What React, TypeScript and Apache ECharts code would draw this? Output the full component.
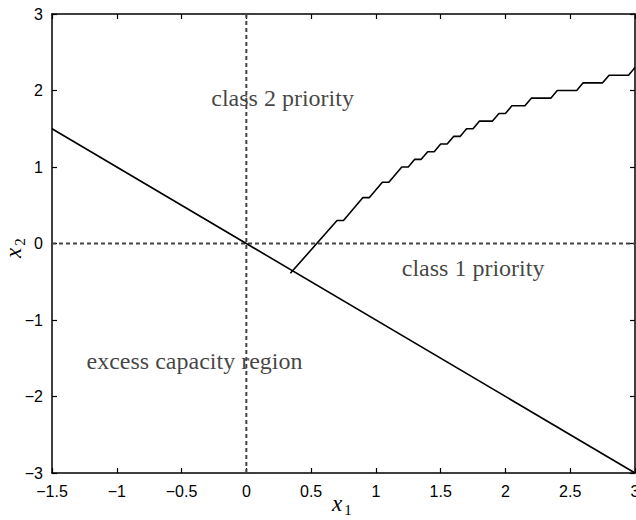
import React, { useEffect, useRef } from "react";
import * as echarts from "echarts";

// Boundary line x2 = -x1
const boundaryX = [-1.5, 3];
const boundaryY = [1.5, -3];

// Staircase switching curve
const curveX = [0.34, 0.70, 0.75, 0.90, 0.95, 1.05, 1.10, 1.20, 1.25, 1.30, 1.35, 1.40, 1.45, 1.50, 1.55, 1.60, 1.65, 1.70, 1.75, 1.80, 1.90, 1.95, 2.00, 2.05, 2.15, 2.20, 2.35, 2.40, 2.55, 2.60, 2.75, 2.80, 2.95, 3.00];
const curveY = [-0.39, 0.30, 0.30, 0.60, 0.60, 0.80, 0.80, 1.00, 1.00, 1.10, 1.10, 1.20, 1.20, 1.30, 1.30, 1.40, 1.40, 1.50, 1.50, 1.60, 1.60, 1.70, 1.70, 1.80, 1.80, 1.90, 1.90, 2.00, 2.00, 2.10, 2.10, 2.20, 2.20, 2.30];

// Dotted reference axes
const hDashX = [-1.5, 3];
const hDashY = [0, 0];
const vDashX = [0, 0];
const vDashY = [-3, 3];

// Region annotations
const labelTexts = ["class 2 priority", "class 1 priority", "excess capacity region"];
const labelX = [0.28, 1.75, -0.40];
const labelY = [1.90, -0.32, -1.54];

const xTicks = { min: -1.5, max: 3, interval: 0.5 };
const yTicks = { min: -3, max: 3, interval: 1 };

const zip = (a: number[], b: number[]) => a.map((v, i) => [v, b[i]]);

export default function App() {
  const ref = useRef<HTMLDivElement>(null);
  useEffect(() => {
    if (!ref.current) return;
    const chart = echarts.init(ref.current, null, { renderer: "svg" });
    const axisLine = { show: true, onZero: false, lineStyle: { color: "#000", width: 1.5 } };
    const tick = { show: true, inside: true, length: 5, lineStyle: { color: "#000", width: 1.2 } };
    const fmt = (v: number) => String(v).replace("-", "\u2212");
    const tickFont = { fontFamily: "Liberation Sans", fontSize: 16, color: "#000" };
    const italic = { fontFamily: "Liberation Serif", fontStyle: "italic", fontSize: 23, fill: "#000" };
    const sub = { fontFamily: "Liberation Serif", fontSize: 15, fill: "#000" };
    chart.setOption({
      animation: false,
      grid: { left: 52, top: 14, width: 583, height: 459, containLabel: false, outerBoundsMode: "none" },
      xAxis: [
        {
          type: "value", position: "bottom", ...xTicks,
          axisLine, axisTick: tick, splitLine: { show: false },
          axisLabel: { ...tickFont, margin: 10, formatter: fmt },
        },
        {
          type: "value", position: "top", ...xTicks,
          axisLine, axisTick: tick, splitLine: { show: false }, axisLabel: { show: false },
        },
      ],
      yAxis: [
        {
          type: "value", position: "left", ...yTicks,
          axisLine, axisTick: tick, splitLine: { show: false },
          axisLabel: { ...tickFont, margin: 9, formatter: fmt },
        },
        {
          type: "value", position: "right", ...yTicks,
          axisLine, axisTick: tick, splitLine: { show: false }, axisLabel: { show: false },
        },
      ],
      graphic: [
        {
          type: "group", x: 340, y: 503, silent: true,
          children: [
            { type: "text", x: -3, y: 0, style: { ...italic, text: "x", align: "center", verticalAlign: "middle" } },
            { type: "text", x: 8, y: 7, style: { ...sub, text: "1", align: "center", verticalAlign: "middle" } },
          ],
        },
        {
          type: "group", x: 13, y: 250, rotation: Math.PI / 2, silent: true,
          children: [
            { type: "text", x: -3, y: 0, style: { ...italic, text: "x", align: "center", verticalAlign: "middle" } },
            { type: "text", x: 8, y: 7, style: { ...sub, text: "2", align: "center", verticalAlign: "middle" } },
          ],
        },
      ],
      series: [
        {
          type: "line", data: zip(hDashX, hDashY), showSymbol: false, silent: true,
          lineStyle: { color: "#444", width: 2, type: [4, 3] },
        },
        {
          type: "line", data: zip(vDashX, vDashY), showSymbol: false, silent: true,
          lineStyle: { color: "#444", width: 2, type: [4, 3] },
        },
        {
          type: "line", data: zip(boundaryX, boundaryY), showSymbol: false, silent: true,
          lineStyle: { color: "#000", width: 1.6 },
        },
        {
          type: "line", data: zip(curveX, curveY), showSymbol: false, silent: true,
          lineStyle: { color: "#000", width: 1.6 },
        },
        {
          type: "scatter", symbolSize: 0, silent: true,
          data: labelTexts.map((t, i) => [labelX[i], labelY[i], t]),
          label: {
            show: true, position: "inside",
            formatter: (p: any) => p.data[2],
            fontFamily: "Liberation Serif", fontSize: 24, color: "#111",
          },
        },
      ],
    });
    return () => chart.dispose();
  }, []);
  return (
    <div
      ref={ref}
      style={{ position: "fixed", left: 0, top: 0, width: 636, height: 520, background: "#fff" }}
    />
  );
}
